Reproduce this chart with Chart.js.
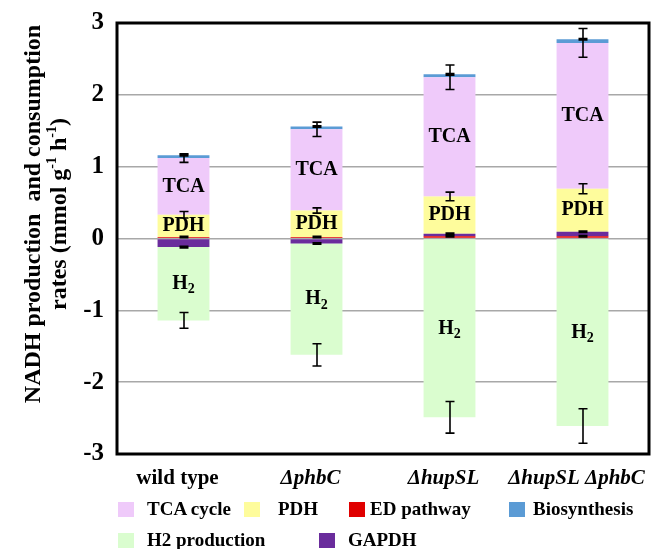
<!DOCTYPE html>
<html><head><meta charset="utf-8">
<script src="https://cdn.jsdelivr.net/npm/chart.js@4.4.1/dist/chart.umd.min.js"></script>
<style>
html,body{margin:0;padding:0;background:#fff;}
#wrap{position:relative;width:659px;height:549px;overflow:hidden;}
#legend{position:absolute;left:0;top:0;width:659px;height:549px;pointer-events:none;font:bold 19px "Liberation Serif","Times New Roman",serif;color:#000;}
.sw{position:absolute;width:16px;height:15px;}
.lt{position:absolute;white-space:nowrap;line-height:22px;height:22px;}
</style></head><body>
<div id="wrap"><canvas id="c" width="659" height="549"></canvas><div id="legend"></div></div>
<script>
// ---- data ----
const categories = ['wild type', 'ΔphbC', 'ΔhupSL', 'ΔhupSL ΔphbC'];
const edPathway   = [0.02, 0.02, 0.03, 0.03];
const gapdh       = [-0.12, -0.07, 0.035, 0.063];
const pdh         = [0.31, 0.37, 0.52, 0.60];
const tcaCycle    = [0.79, 1.13, 1.66, 2.03];
const biosynthesis= [0.04, 0.04, 0.04, 0.05];
const h2Production= [-1.02, -1.55, -2.49, -2.61];
// error bar half-widths
const edErr  = [0.01, 0.01, 0.01, 0.01];
const gapdhErr = [0.01, 0.01, 0.01, 0.01];
const pdhErr = [0.045, 0.037, 0.06, 0.07];
const tcaErr = [0.06, 0.10, 0.17, 0.20];
const bioErr = [0.01, 0.01, 0.01, 0.01];
const h2Err  = [0.11, 0.155, 0.22, 0.24];
const yTicks = [-3, -2, -1, 0, 1, 2, 3];
const seriesNames = ['ED pathway', 'GAPDH', 'PDH', 'TCA cycle', 'Biosynthesis', 'H2 production'];
const seriesColors = ['#e00000', '#6a2c9c', '#fefc9c', '#efcafa', '#5b9bd5', '#dafdcf'];
const barTexts = [null, null, 'PDH', 'TCA', null, 'H2'];

const SERIF = '"Liberation Serif","Times New Roman",serif';
const seriesData = [edPathway, gapdh, pdh, tcaCycle, biosynthesis, h2Production];
const seriesErr = [edErr, gapdhErr, pdhErr, tcaErr, bioErr, h2Err];

const datasets = seriesNames.map((n, i) => ({
  label: n, data: seriesData[i], backgroundColor: seriesColors[i],
  borderWidth: 0, stack: 's', errors: seriesErr[i], barText: barTexts[i]
}));

const framePlugin = {
  id: 'frame',
  afterDatasetsDraw(chart) {
    const {ctx, chartArea: a, scales} = chart;
    const y = scales.y;
    // error bars
    ctx.save();
    ctx.strokeStyle = '#000'; ctx.lineWidth = 1.6;
    chart.data.datasets.forEach((ds, di) => {
      const meta = chart.getDatasetMeta(di);
      meta.data.forEach((bar, j) => {
        const e = ds.errors[j];
        const v = y.getValueForPixel(bar.y);
        const p1 = y.getPixelForValue(v + e), p2 = y.getPixelForValue(v - e);
        const x = Math.round(bar.x);
        ctx.beginPath();
        ctx.moveTo(x, p1); ctx.lineTo(x, p2);
        ctx.moveTo(x - 4.5, p1); ctx.lineTo(x + 4.5, p1);
        ctx.moveTo(x - 4.5, p2); ctx.lineTo(x + 4.5, p2);
        ctx.stroke();
      });
    });
    // text in bars
    ctx.fillStyle = '#000';
    ctx.textAlign = 'center'; ctx.textBaseline = 'middle';
    chart.data.datasets.forEach((ds, di) => {
      if (!ds.barText) return;
      const meta = chart.getDatasetMeta(di);
      meta.data.forEach((bar) => {
        const my = (bar.y + bar.base) / 2;
        if (ds.barText === 'H2') {
          ctx.font = 'bold 20px ' + SERIF;
          const wH = ctx.measureText('H').width;
          ctx.font = 'bold 14px ' + SERIF;
          const w2 = ctx.measureText('2').width;
          const x0 = bar.x - (wH + w2) / 2;
          ctx.textAlign = 'left';
          ctx.font = 'bold 20px ' + SERIF;
          ctx.fillText('H', x0, my);
          ctx.font = 'bold 14px ' + SERIF;
          ctx.fillText('2', x0 + wH, my + 6);
          ctx.textAlign = 'center';
        } else {
          ctx.font = 'bold 20px ' + SERIF;
          ctx.fillText(ds.barText, bar.x, my);
        }
      });
    });
    // frame
    ctx.strokeStyle = '#000'; ctx.lineWidth = 3;
    ctx.strokeRect(a.left, a.top, a.right - a.left, a.bottom - a.top);
    ctx.restore();
  },
  afterDraw(chart) {
    const ctx = chart.ctx;
    ctx.save();
    ctx.fillStyle = '#000';
    ctx.textBaseline = 'alphabetic';
    ctx.textAlign = 'left';
    const cy = 214;
    // line 1
    ctx.save();
    ctx.translate(40, cy); ctx.rotate(-Math.PI / 2);
    ctx.font = 'bold 24px ' + SERIF;
    const l1 = 'NADH production  and consumption';
    const w1 = ctx.measureText(l1).width;
    ctx.fillText(l1, -w1 / 2, 0);
    ctx.restore();
    // line 2 with superscripts
    ctx.save();
    ctx.translate(66, cy); ctx.rotate(-Math.PI / 2);
    const parts = [['rates (mmol g', 0], ['-1', 1], [' h', 0], ['-1', 1], [')', 0]];
    const fN = 'bold 24px ' + SERIF, fS = 'bold 14px ' + SERIF;
    let tw = 0;
    parts.forEach(p => { ctx.font = p[1] ? fS : fN; tw += ctx.measureText(p[0]).width; });
    let x = -tw / 2;
    parts.forEach(p => {
      ctx.font = p[1] ? fS : fN;
      ctx.fillText(p[0], x, p[1] ? -10 : 0);
      x += ctx.measureText(p[0]).width;
    });
    ctx.restore();
    ctx.restore();
  }
};

new Chart(document.getElementById('c'), {
  type: 'bar',
  data: { labels: categories, datasets },
  options: {
    responsive: false, animation: false,
    layout: { padding: { left: 0, right: 10, top: 23, bottom: 55 } },
    plugins: { legend: { display: false }, tooltip: { enabled: false } },
    datasets: { bar: { barPercentage: 0.39, categoryPercentage: 1.0 } },
    scales: {
      x: {
        stacked: true,
        grid: { display: false, drawTicks: false },
        border: { display: false },
        ticks: {
          color: '#000', padding: 12, maxRotation: 0, minRotation: 0, autoSkip: false, labelOffset: -6,
          font: (c) => ({ family: SERIF, size: 21, weight: 'bold', style: c.index === 0 ? 'normal' : 'italic' })
        },
        afterFit: (s) => { s.height = 40; s.paddingLeft = 0; s.paddingRight = 0; }
      },
      y: {
        stacked: true, min: -3, max: 3,
        afterBuildTicks: (s) => { s.ticks = yTicks.map(v => ({ value: v })); },
        grid: { color: '#a8a8a8', lineWidth: 1.6, drawTicks: false },
        border: { display: false },
        ticks: { color: '#000', padding: 13, font: { family: SERIF, size: 25, weight: 'bold' } },
        afterFit: (s) => { s.width = 117; s.paddingTop = 0; s.paddingBottom = 0; }
      }
    }
  },
  plugins: [framePlugin]
});

// ---- HTML legend ----
const legendOrder = [3, 2, 0, 4, 5, 1];
const legendBoxX = [118, 244, 349, 509, 118, 319];
const legendTextX = [147, 278, 370, 533, 147, 348];
const legendRowY = [498, 529];
const lg = document.getElementById('legend');
legendOrder.forEach((si, k) => {
  const rowY = legendRowY[k < 4 ? 0 : 1];
  const sw = document.createElement('div');
  sw.className = 'sw';
  sw.style.left = legendBoxX[k] + 'px';
  sw.style.top = (rowY + 4) + 'px';
  sw.style.background = seriesColors[si];
  lg.appendChild(sw);
  const t = document.createElement('div');
  t.className = 'lt';
  t.style.left = legendTextX[k] + 'px';
  t.style.top = rowY + 'px';
  t.textContent = seriesNames[si];
  lg.appendChild(t);
});
</script>
</body></html>
